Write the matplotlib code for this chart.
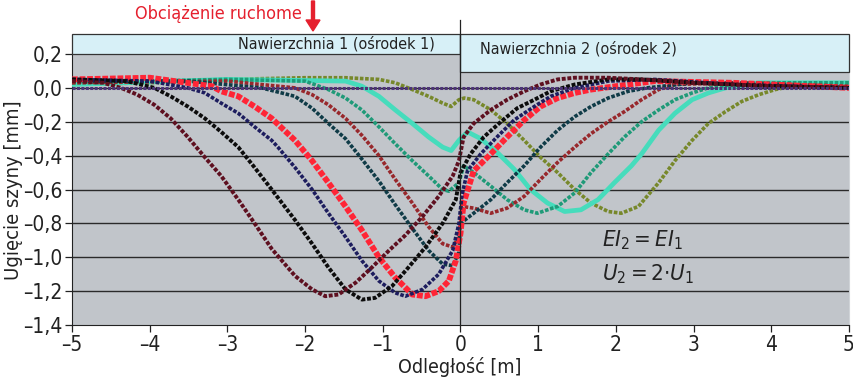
import matplotlib
matplotlib.use("Agg")
import matplotlib.pyplot as plt
from matplotlib.patches import Rectangle, FancyArrow

# deflection curves, one per load position
maroon_x = [-5, -4.6, -4.37, -4.16, -3.94, -3.73, -3.51, -3.29, -3.08, -2.86, -2.65, -2.43, -2.13, -1.91, -1.74,
            -1.57, -1.35, -1.14, -0.92, -0.71, -0.49, -0.28, -0.10, -0.02, 0.04, 0.17, 0.39, 0.60, 0.82, 1.03,
            1.25, 1.47, 1.9, 2.33, 3.0, 4.0, 5.0]
maroon_y = [0.04, 0.03, 0.0, -0.04, -0.10, -0.18, -0.29, -0.41, -0.52, -0.66, -0.80, -0.95, -1.11, -1.19, -1.23,
            -1.22, -1.15, -1.06, -0.96, -0.87, -0.76, -0.64, -0.52, -0.43, -0.29, -0.21, -0.13, -0.07, -0.02, 0.02,
            0.05, 0.06, 0.06, 0.05, 0.03, 0.01, 0.0]

black_x = [-5, -4.3, -3.94, -3.73, -3.51, -3.29, -3.08, -2.86, -2.65, -2.43, -2.13, -1.91, -1.70, -1.48, -1.27,
           -1.10, -0.88, -0.67, -0.45, -0.23, -0.06, 0.0, 0.13, 0.30, 0.52, 0.73, 0.95, 1.16, 1.47, 1.9, 2.33,
           3.0, 4.0, 5.0]
black_y = [0.05, 0.04, 0.0, -0.05, -0.11, -0.18, -0.26, -0.35, -0.47, -0.60, -0.78, -0.92, -1.06, -1.19, -1.25,
           -1.24, -1.17, -1.06, -0.94, -0.80, -0.66, -0.50, -0.39, -0.29, -0.20, -0.12, -0.07, -0.02, 0.02, 0.05,
           0.05, 0.03, 0.01, 0.0]

navy_x = [-5, -4.0, -3.51, -3.29, -3.08, -2.86, -2.65, -2.43, -2.35, -2.13, -1.91, -1.70, -1.48, -1.27, -1.05,
          -0.84, -0.71, -0.49, -0.28, -0.10, -0.02, 0.02, 0.09, 0.26, 0.47, 0.69, 0.95, 1.16, 1.47, 1.9, 2.5,
          3.5, 5.0]
navy_y = [0.05, 0.04, 0.0, -0.03, -0.09, -0.15, -0.23, -0.31, -0.35, -0.47, -0.60, -0.74, -0.88, -1.02, -1.14,
          -1.21, -1.23, -1.19, -1.10, -0.96, -0.80, -0.63, -0.49, -0.39, -0.29, -0.19, -0.11, -0.05, 0.0, 0.04,
          0.05, 0.02, 0.0]

red_x = [-5, -4.0, -3.2, -3.08, -2.86, -2.65, -2.43, -2.13, -1.91, -1.70, -1.48, -1.27, -1.05, -0.84, -0.62,
         -0.45, -0.28, -0.15, -0.06, 0.0, 0.04, 0.17, 0.39, 0.60, 0.82, 1.03, 1.25, 1.47, 1.68, 2.0, 2.5, 3.5, 5.0]
red_y = [0.05, 0.06, 0.01, -0.02, -0.05, -0.11, -0.18, -0.31, -0.43, -0.56, -0.70, -0.84, -1.0, -1.12, -1.22,
         -1.23, -1.20, -1.14, -1.02, -0.86, -0.68, -0.49, -0.39, -0.29, -0.19, -0.11, -0.06, -0.03, -0.01, 0.01,
         0.04, 0.03, 0.0]

teal_x = [-5, -3.5, -2.56, -2.13, -1.91, -1.70, -1.48, -1.27, -1.05, -0.84, -0.62, -0.41, -0.23, -0.10, -0.02,
          0.0, 0.17, 0.39, 0.60, 0.82, 1.03, 1.25, 1.47, 1.68, 1.90, 2.16, 2.4, 3.0, 4.0, 5.0]
teal_y = [0.04, 0.04, 0.0, -0.05, -0.12, -0.21, -0.30, -0.42, -0.55, -0.69, -0.83, -0.96, -1.04, -1.05, -0.97,
          -0.80, -0.74, -0.66, -0.56, -0.46, -0.35, -0.25, -0.17, -0.11, -0.06, -0.02, 0.0, 0.03, 0.02, 0.0]

brown_x = [-5, -3.0, -2.13, -1.91, -1.70, -1.48, -1.27, -1.05, -0.84, -0.62, -0.41, -0.23, -0.10, -0.02, 0.02,
           0.17, 0.39, 0.60, 0.82, 1.03, 1.25, 1.47, 1.68, 1.90, 2.11, 2.33, 2.55, 2.76, 3.5, 5.0]
brown_y = [0.03, 0.04, 0.0, -0.04, -0.10, -0.18, -0.28, -0.40, -0.54, -0.68, -0.82, -0.92, -0.94, -0.88, -0.70,
           -0.71, -0.74, -0.71, -0.64, -0.54, -0.44, -0.35, -0.27, -0.20, -0.14, -0.07, -0.01, 0.02, 0.03, 0.01]

green_x = [-5, -3.0, -2.0, -1.70, -1.48, -1.27, -1.05, -0.84, -0.62, -0.41, -0.23, -0.15, -0.02, 0.04, 0.17,
           0.39, 0.60, 0.82, 0.99, 1.25, 1.47, 1.68, 1.90, 2.11, 2.33, 2.55, 2.76, 2.98, 3.19, 3.62, 5.0]
green_y = [0.03, 0.05, 0.04, -0.01, -0.06, -0.13, -0.23, -0.33, -0.43, -0.52, -0.60, -0.61, -0.56, -0.46, -0.50,
           -0.58, -0.66, -0.72, -0.74, -0.70, -0.62, -0.50, -0.39, -0.29, -0.20, -0.13, -0.07, -0.03, 0.0, 0.03,
           0.03]

turq_x = [-5, -3.0, -1.48, -1.27, -1.05, -0.84, -0.62, -0.41, -0.23, -0.12, -0.02, 0.09, 0.26, 0.47, 0.69,
          0.90, 1.12, 1.34, 1.55, 1.77, 1.98, 2.2, 2.33, 2.55, 2.76, 2.98, 3.19, 3.41, 3.84, 5.0]
turq_y = [0.02, 0.05, 0.04, 0.01, -0.05, -0.13, -0.21, -0.29, -0.35, -0.37, -0.31, -0.26, -0.30, -0.38, -0.48,
          -0.60, -0.68, -0.73, -0.72, -0.66, -0.56, -0.46, -0.39, -0.25, -0.15, -0.07, -0.03, 0.0, 0.03, 0.03]

olive_x = [-5, -4.0, -3.0, -2.0, -1.48, -1.05, -0.84, -0.62, -0.41, -0.23, -0.12, -0.02, 0.05, 0.17, 0.39,
           0.60, 0.82, 1.03, 1.25, 1.47, 1.68, 1.90, 2.07, 2.29, 2.55, 2.76, 2.98, 3.19, 3.41, 3.62, 3.84, 4.05,
           4.27, 5.0]
olive_y = [0.02, 0.03, 0.05, 0.06, 0.06, 0.05, 0.03, -0.01, -0.05, -0.09, -0.11, -0.07, -0.06, -0.07, -0.13,
           -0.21, -0.31, -0.41, -0.50, -0.60, -0.68, -0.73, -0.74, -0.70, -0.56, -0.43, -0.31, -0.21, -0.14,
           -0.08, -0.04, -0.01, 0.01, 0.03]

flat_x = [-5, 5]
flat_y = [0.0, 0.0]

x_ticks = [-5, -4, -3, -2, -1, 0, 1, 2, 3, 4, 5]
x_labels = ["\u20135", "\u20134", "\u20133", "\u20132", "\u20131", "0", "1", "2", "3", "4", "5"]
y_ticks = [0.2, 0.0, -0.2, -0.4, -0.6, -0.8, -1.0, -1.2, -1.4]
y_labels = ["0,2", "0,0", "\u20130,2", "\u20130,4", "\u20130,6", "\u20130,8", "\u20131,0", "\u20131,2", "\u20131,4"]

plt.rcParams["font.family"] = ["DejaVu Sans"]
plt.rcParams["font.stretch"] = "condensed"
plt.rcParams["mathtext.fontset"] = "custom"
plt.rcParams["mathtext.it"] = "DejaVu Sans:style=oblique:stretch=condensed"
plt.rcParams["mathtext.rm"] = "DejaVu Sans:stretch=condensed"

W, H = 854, 378
TXT = "#222222"
fig = plt.figure(figsize=(W / 100, H / 100), dpi=100)
fig.patch.set_facecolor("white")
ax = fig.add_axes([72 / W, 1 - 325 / H, (849 - 72) / W, (325 - 54) / H])
ax.set_facecolor("#c1c5ca")
ax.set_xlim(-5, 5)
ax.set_ylim(-1.4, 0.2)

for yv in [-1.2, -1.0, -0.8, -0.6, -0.4, -0.2, 0.0]:
    ax.axhline(yv, color="#2a2a2a", lw=1.0, zorder=1)

# surface boxes above the plot
ax.add_patch(Rectangle((-5, 0.2), 5, 0.12, facecolor="#d7f0f7", edgecolor="#333333", lw=0.9,
                       clip_on=False, zorder=5))
ax.add_patch(Rectangle((0, 0.095), 5, 0.225, facecolor="#d7f0f7", edgecolor="#333333", lw=0.9,
                       clip_on=False, zorder=5))
ax.text(-1.6, 0.262, "Nawierzchnia 1 (ośrodek 1)", ha="center", va="center", fontsize=11.5,
        color=TXT, zorder=6)
ax.text(1.52, 0.23, "Nawierzchnia 2 (ośrodek 2)", ha="center", va="center", fontsize=11.5,
        color=TXT, zorder=6)
ax.plot([0, 0], [-1.4, 0.4], color=TXT, lw=0.9, clip_on=False, zorder=6)

beads = (0, (1.0, 0.45))
curves = [
    (olive_x, olive_y, "#77882b", 2.6, beads),
    (turq_x, turq_y, "#46dcbc", 3.4, "-"),
    (green_x, green_y, "#1f9a78", 2.6, beads),
    (brown_x, brown_y, "#98282c", 2.6, beads),
    (teal_x, teal_y, "#0f3b47", 2.6, beads),
    (red_x, red_y, "#ff2536", 4.2, (0, (1.0, 0.3))),
    (navy_x, navy_y, "#1d1d5e", 2.6, beads),
    (black_x, black_y, "#0c0c0c", 2.8, beads),
    (maroon_x, maroon_y, "#5e1020", 2.8, beads),
    (flat_x, flat_y, "#4d3477", 2.2, beads),
]
for xs, ys, col, lw, ls in curves:
    ax.plot(xs, ys, color=col, lw=lw, linestyle=ls, zorder=3)

ax.set_xticks(x_ticks)
ax.set_xticklabels(x_labels)
ax.set_yticks(y_ticks)
ax.set_yticklabels(y_labels)
ax.tick_params(axis="both", labelsize=15, length=5, width=0.9, color=TXT, labelcolor=TXT)
ax.tick_params(axis="x", pad=2)
ax.tick_params(axis="y", pad=2)
ax.spines["top"].set_visible(False)
ax.spines["left"].set_color(TXT)
ax.spines["bottom"].set_color(TXT)
ax.spines["right"].set_color("#d0d4d8")

ax.text(1.82, -0.9, r"$EI_2 = EI_1$", fontsize=16, color=TXT, va="center", zorder=6)
ax.text(1.82, -1.1, r"$U_2 = 2{\cdot}U_1$", fontsize=16, color=TXT, va="center", zorder=6)

fig.text(14 / W, 1 - 190 / H, "Ugięcie szyny [mm]", rotation=90, ha="center", va="center",
         fontsize=14.5, color=TXT)
fig.text(460 / W, 1 - 367 / H, "Odległość [m]", ha="center", va="center", fontsize=14, color=TXT)

fig.text(218 / W, 1 - 14 / H, "Obciążenie ruchome", ha="center", va="center", fontsize=13,
         color="#e5202e")
fig.patches.append(FancyArrow(
    313 / W, 1 - 1 / H, 0, -(30 / H), width=3 / W, head_width=14 / W, head_length=11 / H,
    length_includes_head=True, color="#e5202e", transform=fig.transFigure, figure=fig))

fig.savefig("out.png", dpi=100)
